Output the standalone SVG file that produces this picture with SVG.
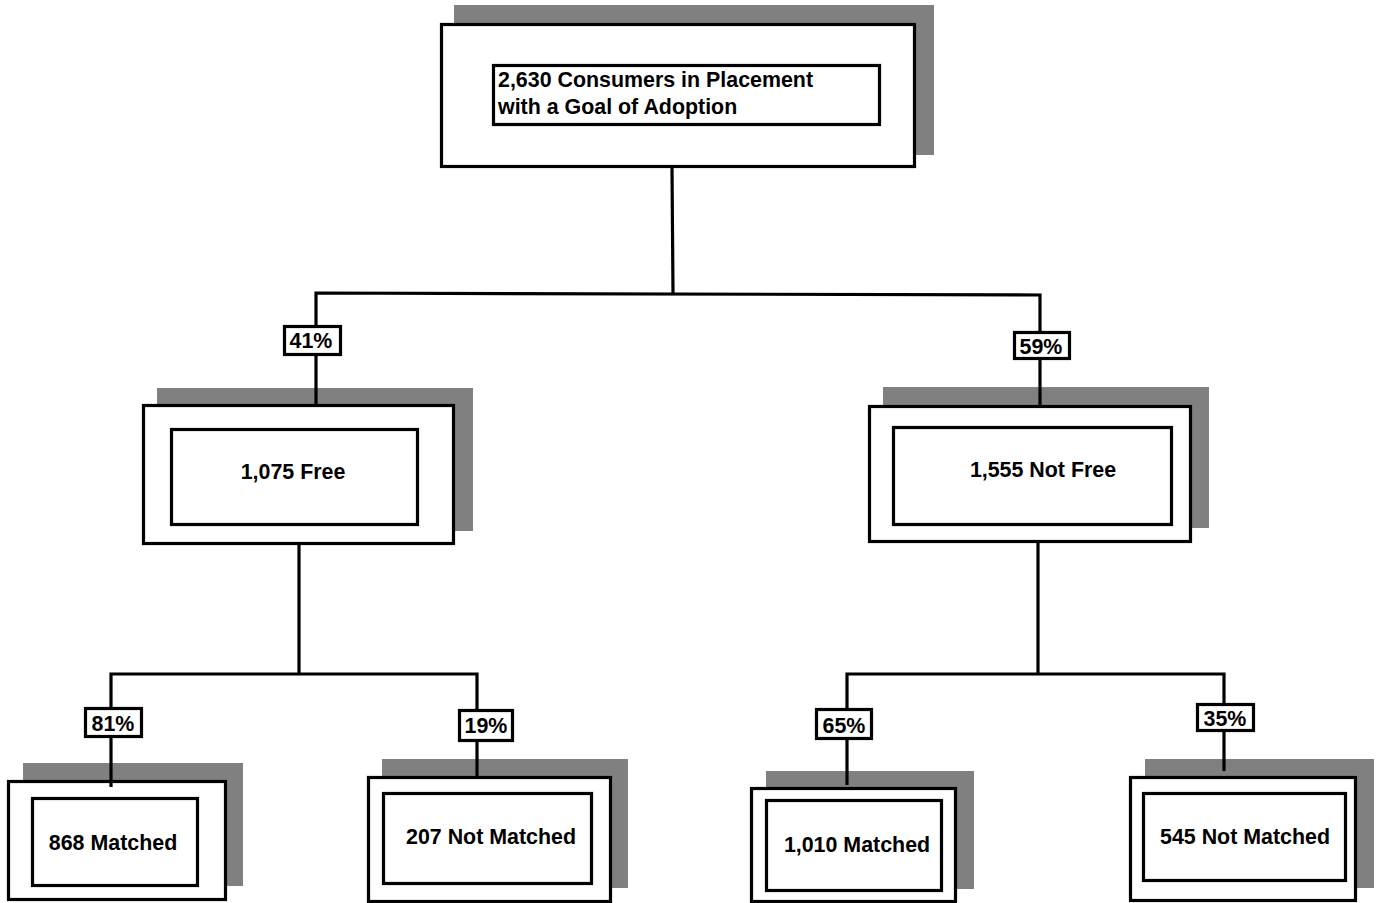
<svg xmlns="http://www.w3.org/2000/svg" width="1380" height="903" viewBox="0 0 1380 903">
<style>
.sh{fill:#808080;stroke:none}
.bx{fill:#fff;stroke:#000;stroke-width:3.2}
.ln{fill:none;stroke:#000;stroke-width:3.2;stroke-linejoin:miter;stroke-linecap:butt}
.t{font-family:"Liberation Sans",Arial,sans-serif;font-weight:bold;font-size:21.4px;fill:#000}
.c{text-anchor:middle}
</style>
<rect width="1380" height="903" fill="#fff"/>
<g id="node-total">
<rect class="sh" x="454" y="5" width="480" height="150"/>
<rect class="bx" x="441.5" y="24.5" width="473" height="142"/>
<rect class="bx" x="493.5" y="65.5" width="386" height="59"/>
<text class="t" x="498" y="87">2,630 Consumers in Placement</text>
<text class="t" x="498" y="114">with a Goal of Adoption</text>
</g>
<g id="node-free">
<rect class="sh" x="157" y="388" width="316" height="143"/>
<rect class="bx" x="143.5" y="405.5" width="310" height="138"/>
<rect class="bx" x="171.5" y="429.5" width="246" height="95"/>
<text class="t c" x="293" y="479">1,075 Free</text>
</g>
<g id="node-notfree">
<rect class="sh" x="883" y="387" width="326" height="141"/>
<rect class="bx" x="869.5" y="406.5" width="321" height="135"/>
<rect class="bx" x="893.5" y="427.5" width="278" height="97"/>
<text class="t c" x="1043" y="477">1,555 Not Free</text>
</g>
<g id="node-868">
<rect class="sh" x="23" y="763" width="220" height="123"/>
<rect class="bx" x="8.5" y="781.5" width="217" height="118"/>
<rect class="bx" x="32.5" y="798.5" width="165" height="87"/>
<text class="t c" x="113" y="850">868 Matched</text>
</g>
<g id="node-207">
<rect class="sh" x="382" y="759" width="246" height="129"/>
<rect class="bx" x="368.5" y="777.5" width="242" height="124"/>
<rect class="bx" x="383.5" y="793.5" width="208" height="90"/>
<text class="t c" x="491" y="844">207 Not Matched</text>
</g>
<g id="node-1010">
<rect class="sh" x="766" y="771" width="208" height="118"/>
<rect class="bx" x="751.5" y="788.5" width="204" height="113"/>
<rect class="bx" x="766.5" y="800.5" width="175" height="90"/>
<text class="t c" x="857" y="852">1,010 Matched</text>
</g>
<g id="node-545">
<rect class="sh" x="1145" y="759" width="229" height="129"/>
<rect class="bx" x="1130.5" y="777.5" width="225" height="123"/>
<rect class="bx" x="1143.5" y="793.5" width="202" height="87"/>
<text class="t c" x="1245" y="844">545 Not Matched</text>
</g>
<g id="connectors">
<path class="ln" d="M672,168 L673,293"/>
<path class="ln" d="M316,405 L316,293 L1040,295 L1040,406"/>
<path class="ln" d="M299,545 L299,674"/>
<path class="ln" d="M111,787 L111,674 L477,674 L477,777"/>
<path class="ln" d="M1038,543 L1038,674"/>
<path class="ln" d="M847,785 L847,674 L1224,674 L1224,771"/>
<g id="label-41"><rect class="bx" x="284.5" y="326.5" width="56" height="28"/><text class="t c" x="311" y="348">41%</text></g>
<g id="label-59"><rect class="bx" x="1014.5" y="332.5" width="55" height="26"/><text class="t c" x="1041" y="354">59%</text></g>
<g id="label-81"><rect class="bx" x="85.5" y="708.5" width="56" height="28"/><text class="t c" x="113" y="731">81%</text></g>
<g id="label-19"><rect class="bx" x="459.5" y="710.5" width="53" height="30"/><text class="t c" x="486" y="733">19%</text></g>
<g id="label-65"><rect class="bx" x="816.5" y="709.5" width="55" height="29"/><text class="t c" x="844" y="733">65%</text></g>
<g id="label-35"><rect class="bx" x="1197.5" y="704.5" width="56" height="26"/><text class="t c" x="1225" y="726">35%</text></g>
</g>
</svg>
